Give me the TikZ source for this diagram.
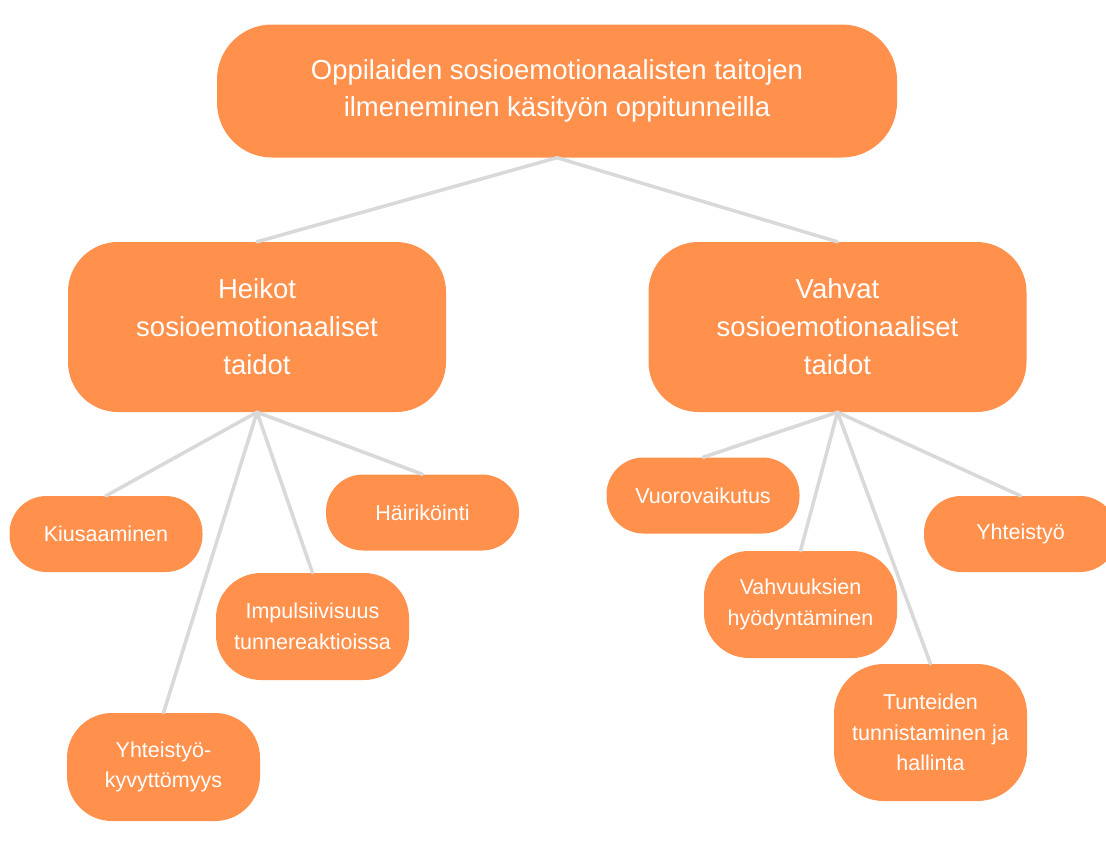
\documentclass[tikz,border=0pt]{standalone}
\usepackage{fontspec}
\setmainfont{Liberation Sans}
\definecolor{boxorange}{HTML}{FF914D}
\definecolor{linkgray}{HTML}{D9D9D9}
\tikzset{
  root/.style={fill=boxorange, text=white, align=center, inner sep=0pt,
    minimum width=680pt, minimum height=133pt, rounded corners=55pt,
    font=\fontsize{27.5}{37.5}\selectfont},
  branch/.style={fill=boxorange, text=white, align=center, inner sep=0pt,
    minimum width=378pt, minimum height=170pt, rounded corners=50pt,
    font=\fontsize{27.5}{38}\selectfont},
  leaf/.style={fill=boxorange, text=white, align=center, inner sep=0pt,
    minimum width=193pt, minimum height=#1, rounded corners=37pt,
    font=\fontsize{21.5}{30.5}\selectfont},
  leaf/.default=76pt,
  link/.style={draw=linkgray, line width=3.5pt, line cap=round}
}
\begin{document}
\begin{tikzpicture}[x=1pt, y=-1pt]
  \clip (0,0) rectangle (1106,847);
  \fill[white] (0,0) rectangle (1106,847);
  % otsikko
  \node[root] (top) at (557,91) {Oppilaiden sosioemotionaalisten taitojen\\ilmeneminen käsityön oppitunneilla};
  % kaksi haaraa
  \node[branch] (weak) at (257,327) {Heikot\\sosioemotionaaliset\\taidot};
  \node[branch] (strong) at (837.5,327) {Vahvat\\sosioemotionaaliset\\taidot};
  % heikot
  \node[leaf] (bully) at (106,534) {Kiusaaminen};
  \node[leaf] (disturb) at (422.5,512.5) {Häiriköinti};
  \node[leaf=107pt, rounded corners=45pt] (impulse) at (312.5,626.5) {Impulsiivisuus\\tunnereaktioissa};
  \node[leaf=108pt, rounded corners=45pt] (nocoop) at (163.5,767) {Yhteistyö-\\kyvyttömyys};
  % vahvat
  \node[leaf] (interact) at (703,495.5) {Vuorovaikutus};
  \node[leaf] (coop) at (1020.5,534) {Yhteistyö};
  \node[leaf=107pt, rounded corners=45pt] (strength) at (800.5,604.5) {Vahvuuksien\\hyödyntäminen};
  \node[leaf=137pt, rounded corners=50pt] (emotion) at (930.5,732.5) {Tunteiden\\tunnistaminen ja\\hallinta};
  % yhteydet
  \draw[link] (top.south) -- (weak.north);
  \draw[link] (top.south) -- (strong.north);
  \foreach \child in {bully,disturb,impulse,nocoop}
    \draw[link] (weak.south) -- (\child.north);
  \foreach \child in {interact,coop,strength,emotion}
    \draw[link] (strong.south) -- (\child.north);
\end{tikzpicture}
\end{document}
